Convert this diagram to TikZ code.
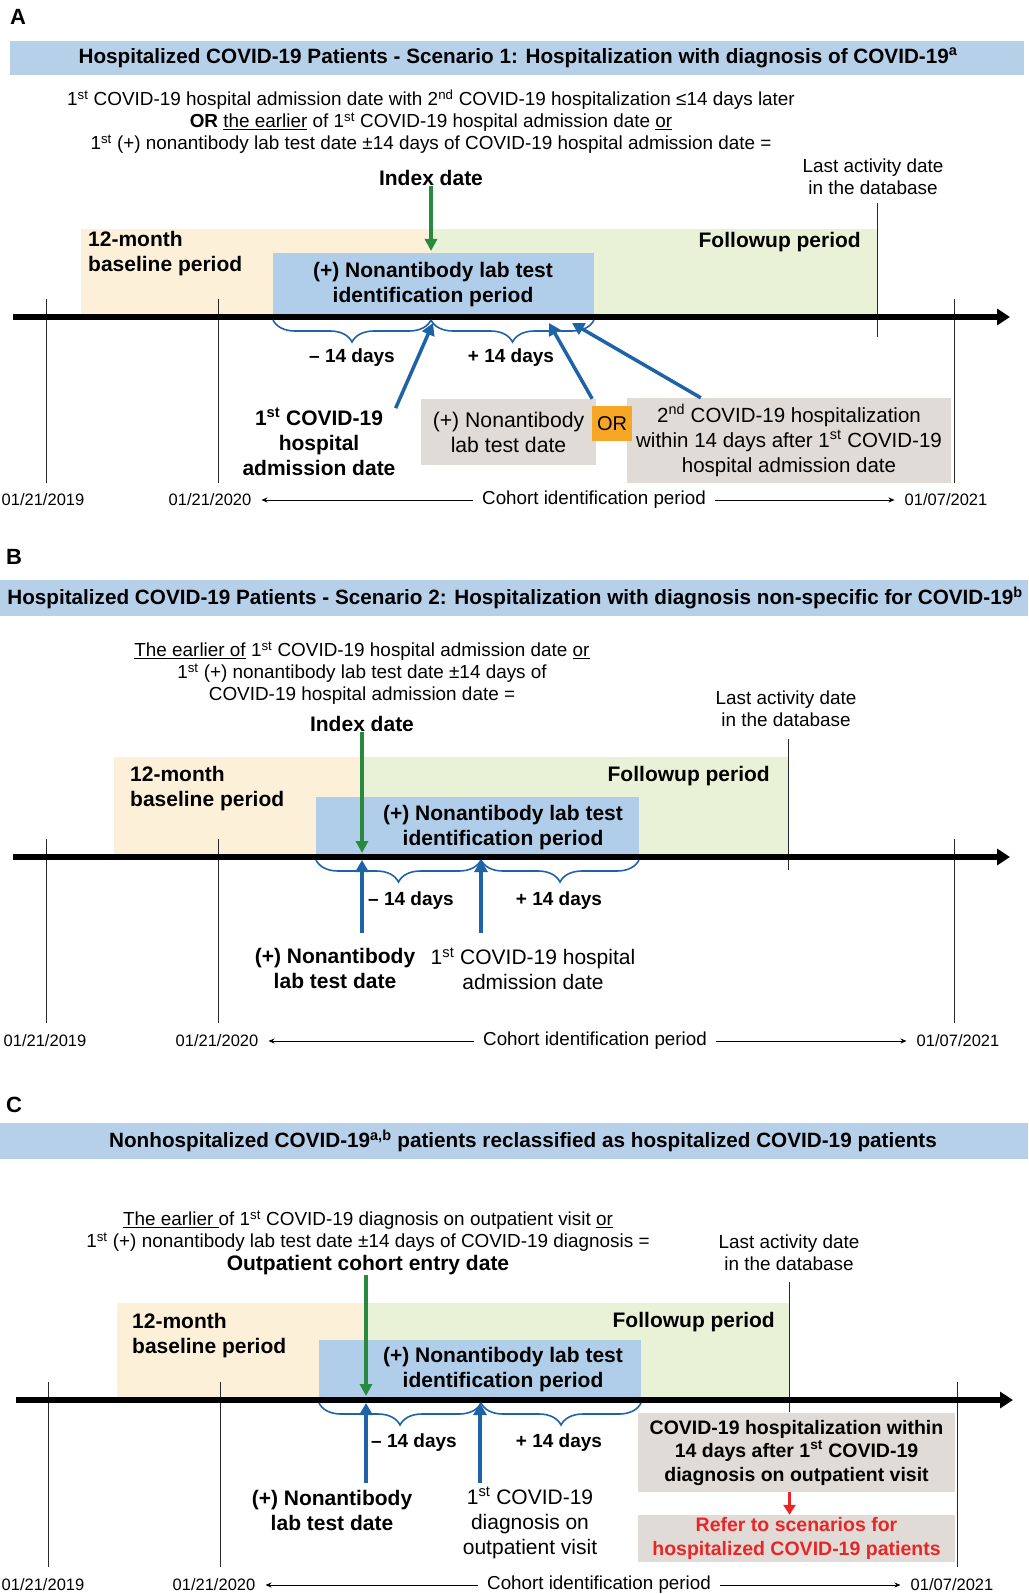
\documentclass[tikz,border=0pt]{standalone}
\usepackage{fontspec}
\setmainfont{Liberation Sans}
\usetikzlibrary{arrows.meta,decorations.pathreplacing}
\definecolor{barblue}{RGB}{182,208,234}
\definecolor{idblue}{RGB}{176,205,233}
\definecolor{peach}{RGB}{253,240,217}
\definecolor{lgreen}{RGB}{233,242,214}
\definecolor{boxgray}{RGB}{225,219,215}
\definecolor{orng}{RGB}{247,166,38}
\definecolor{arrblue}{RGB}{30,98,168}
\definecolor{arrgreen}{RGB}{40,138,62}
\definecolor{redtxt}{RGB}{232,38,38}
\definecolor{tickgray}{RGB}{40,40,40}
\tikzset{
  panel/.style={font=\fontsize{22}{26}\selectfont\bfseries, inner sep=0pt},
  ttl/.style={font=\fontsize{20.7}{24}\selectfont\bfseries, inner sep=0pt},
  body/.style={font=\fontsize{18.9}{22}\selectfont, align=center, inner sep=0pt},
  lbl/.style={font=\fontsize{21}{25}\selectfont\bfseries, align=center, inner sep=0pt},
  lblr/.style={font=\fontsize{21}{25}\selectfont, align=center, inner sep=0pt},
  days/.style={font=\fontsize{19}{22}\selectfont\bfseries, inner sep=0pt},
  date/.style={font=\fontsize{16.5}{20}\selectfont, inner sep=0pt},
  cohort/.style={font=\fontsize{18.8}{22}\selectfont, inner sep=0pt},
  gbox/.style={fill=boxgray, font=\fontsize{21.2}{25}\selectfont, align=center, inner sep=0pt},
  obox/.style={fill=orng, font=\fontsize{20}{24}\selectfont, inner sep=0pt},
  tick/.style={draw=tickgray, line width=1pt},
  axis/.style={line width=6pt, -{Triangle[length=13pt,width=16pt]}},
  brc/.style={draw=arrblue, line width=1.6pt, decorate, decoration={brace, mirror, amplitude=22pt}},
  bluarr/.style={draw=arrblue, line width=3.5pt, -{Triangle[length=12pt,width=13pt]}},
  grnarr/.style={draw=arrgreen, line width=3.5pt, -{Triangle[length=12pt,width=12pt]}},
  redarr/.style={draw=redtxt, line width=3pt, -{Triangle[length=10pt,width=12pt]}},
  cohar/.style={line width=0.8pt, -{Stealth[length=6pt,width=5pt]}, shorten <=9pt, shorten >=10pt}
}
\begin{document}
\begin{tikzpicture}[x=1pt, y=-1pt]
\useasboundingbox (0,0) rectangle (1028,1594);

\node[panel] (pnA) at (18,17) {A};
\fill[barblue] (10,41) rectangle (1024,75);
\node[ttl] (tA) at (518,58) {Hospitalized COVID-19 Patients - Scenario 1: Hospitalization with diagnosis of COVID-19\textsuperscript{a}};
\node[body] (defA) at (431,122) {1\textsuperscript{st} COVID-19 hospital admission date with 2\textsuperscript{nd} COVID-19 hospitalization ≤14 days later\\
  \textbf{OR} \underline{the earlier} of 1\textsuperscript{st} COVID-19 hospital admission date \underline{or}\\
  1\textsuperscript{st} (+) nonantibody lab test date ±14 days of COVID-19 hospital admission date =};
\node[lbl] (idxA) at (431,178) {Index date};
\node[body] (lastA) at (873,177) {Last activity date\\in the database};
\fill[peach] (81,229) rectangle (431,317);
\fill[lgreen] (431,229) rectangle (877,317);
\fill[idblue] (273,253) rectangle (594,317);
\node[lbl, align=left, anchor=west] (baseA) at (88,254) {12-month\\baseline period};
\node[lbl, anchor=east] (folA) at (861,242) {Followup period};
\node[lbl] (idpA) at (433,285) {(+) Nonantibody lab test\\identification period};
\foreach \x in {46,218,954} \draw[tick] (\x,299) -- (\x,483);
\draw[tick] (877,203) -- (877,337);
\draw[axis] (13,317) -- (1010,317);
\coordinate (sA) at (273,320);
\coordinate (iA) at (431,320);
\coordinate (eA) at (594,320);
\draw[brc] (sA) -- (iA);
\draw[brc] (iA) -- (eA);
\node[days] (mA) at (352,358) {– 14 days};
\node[days] (plA) at (511,358) {+ 14 days};
\coordinate (gA) at (431,251);
\draw[grnarr] (idxA) -- (gA);
\node[lbl] (admA) at (319,442) {1\textsuperscript{st} COVID-19\\hospital\\admission date};
\node[gbox, minimum width=175pt, minimum height=66pt] (labA) at (508.5,432) {(+) Nonantibody\\lab test date};
\node[gbox, font=\fontsize{20.5}{25}\selectfont, minimum width=324pt, minimum height=85pt] (hosA) at (789,440.5) {2\textsuperscript{nd} COVID-19 hospitalization\\within 14 days after 1\textsuperscript{st} COVID-19\\hospital admission date};
\node[obox, minimum width=40pt, minimum height=35pt] (orA) at (612,423.5) {OR};
\coordinate (a1A) at (433,323);
\coordinate (a2A) at (549,323);
\coordinate (a3A) at (572,323);
\draw[bluarr] (admA.north east) -- (a1A);
\draw[bluarr] ([xshift=-4pt]labA.north east) -- (a2A);
\draw[bluarr] ([xshift=74pt]hosA.north west) -- (a3A);
\node[date] (d1A) at (43,500) {01/21/2019};
\node[date] (d2A) at (210,500) {01/21/2020};
\node[cohort] (cA) at (594,500) {Cohort identification period};
\node[date] (d3A) at (946,500) {01/07/2021};
\draw[cohar] (cA) -- (d2A);
\draw[cohar] (cA) -- (d3A);

\node[panel] (pnB) at (14,557) {B};
\fill[barblue] (0,580) rectangle (1028,616);
\node[ttl] (tB) at (515,598) {Hospitalized COVID-19 Patients - Scenario 2: Hospitalization with diagnosis non-specific for COVID-19\textsuperscript{b}};
\node[body] (defB) at (362,673) {\underline{The earlier of} 1\textsuperscript{st} COVID-19 hospital admission date \underline{or}\\
  1\textsuperscript{st} (+) nonantibody lab test date ±14 days of\\
  COVID-19 hospital admission date =};
\node[lbl] (idxB) at (362,724) {Index date};
\node[body] (lastB) at (786,708.5) {Last activity date\\in the database};
\fill[peach] (114,757) rectangle (362,857);
\fill[lgreen] (362,757) rectangle (788,857);
\fill[idblue] (316,797) rectangle (639,857);
\node[lbl, align=left, anchor=west] (baseB) at (130,789) {12-month\\baseline period};
\node[lbl, anchor=east] (folB) at (770,776) {Followup period};
\node[lbl] (idpB) at (503,827.5) {(+) Nonantibody lab test\\identification period};
\foreach \x in {46,218,954} \draw[tick] (\x,839) -- (\x,1023);
\draw[tick] (788,739) -- (788,870);
\draw[axis] (13,857) -- (1010,857);
\coordinate (sB) at (316,860);
\coordinate (iB) at (481,860);
\coordinate (eB) at (639,860);
\draw[brc] (sB) -- (iB);
\draw[brc] (iB) -- (eB);
\node[days] (mB) at (411,901) {– 14 days};
\node[days] (plB) at (559,901) {+ 14 days};
\coordinate (gB) at (362,853);
\draw[grnarr] (idxB) -- (gB);
\node[lbl] (labB) at (335,968) {(+) Nonantibody\\lab test date};
\node[lblr] (admB) at (533,969) {1\textsuperscript{st} COVID-19 hospital\\admission date};
\coordinate (t1B) at (362,933);
\coordinate (t2B) at (481,933);
\draw[bluarr] (t1B) -- (sB -| gB);
\draw[bluarr] (t2B) -- (iB);
\node[date] (d1B) at (45,1041) {01/21/2019};
\node[date] (d2B) at (217,1041) {01/21/2020};
\node[cohort] (cB) at (595,1041) {Cohort identification period};
\node[date] (d3B) at (958,1041) {01/07/2021};
\draw[cohar] (cB) -- (d2B);
\draw[cohar] (cB) -- (d3B);

\node[panel] (pnC) at (14,1105) {C};
\fill[barblue] (0,1123) rectangle (1028,1159);
\node[ttl] (tC) at (523,1141) {Nonhospitalized COVID-19\textsuperscript{a,b} patients reclassified as hospitalized COVID-19 patients};
\node[body] (defC) at (368,1231) {\underline{The earlier }of 1\textsuperscript{st} COVID-19 diagnosis on outpatient visit \underline{or}\\
  1\textsuperscript{st} (+) nonantibody lab test date ±14 days of COVID-19 diagnosis =};
\node[lbl] (entC) at (368,1265) {Outpatient cohort entry date};
\node[body] (lastC) at (789,1252.5) {Last activity date\\in the database};
\fill[peach] (117,1303) rectangle (366,1400);
\fill[lgreen] (366,1303) rectangle (789,1400);
\fill[idblue] (319,1340) rectangle (641,1400);
\node[lbl, align=left, anchor=west] (baseC) at (132,1335.5) {12-month\\baseline period};
\node[lbl, anchor=east] (folC) at (775,1322) {Followup period};
\node[lbl] (idpC) at (503,1370) {(+) Nonantibody lab test\\identification period};
\foreach \x in {48,220,957} \draw[tick] (\x,1382) -- (\x,1567);
\draw[tick] (789,1282) -- (789,1412);
\draw[axis] (16,1400) -- (1013,1400);
\coordinate (sC) at (319,1403);
\coordinate (iC) at (481,1403);
\coordinate (eC) at (641,1403);
\draw[brc] (sC) -- (iC);
\draw[brc] (iC) -- (eC);
\node[days] (mC) at (414,1443) {– 14 days};
\node[days] (plC) at (559,1443) {+ 14 days};
\coordinate (gC) at (366,1396);
\draw[grnarr] (entC.south -| gC) -- (gC);
\node[lbl] (labC) at (332,1510) {(+) Nonantibody\\lab test date};
\node[lblr] (admC) at (530,1523) {1\textsuperscript{st} COVID-19\\diagnosis on\\outpatient visit};
\coordinate (t1C) at (366,1483);
\coordinate (t2C) at (480,1483);
\coordinate (a1C) at (366,1403);
\coordinate (a2C) at (480,1403);
\draw[bluarr] (t1C) -- (a1C);
\draw[bluarr] (t2C) -- (a2C);
\node[gbox, font=\fontsize{19.5}{23.5}\selectfont\bfseries, minimum width=317pt, minimum height=79pt] (hosC) at (796.5,1452.5) {COVID-19 hospitalization within\\14 days after 1\textsuperscript{st} COVID-19\\diagnosis on outpatient visit};
\node[gbox, font=\fontsize{19.5}{23.5}\selectfont\bfseries, text=redtxt, minimum width=317pt, minimum height=47pt] (refC) at (796.5,1538.5) {Refer to scenarios for\\hospitalized COVID-19 patients};
\draw[redarr] ([xshift=-7pt]hosC.south) -- ([xshift=-7pt]refC.north);
\node[date] (d1C) at (43,1585) {01/21/2019};
\node[date] (d2C) at (214,1585) {01/21/2020};
\node[cohort] (cC) at (599,1585) {Cohort identification period};
\node[date] (d3C) at (952,1585) {01/07/2021};
\draw[cohar] (cC) -- (d2C);
\draw[cohar] (cC) -- (d3C);
\end{tikzpicture}
\end{document}
